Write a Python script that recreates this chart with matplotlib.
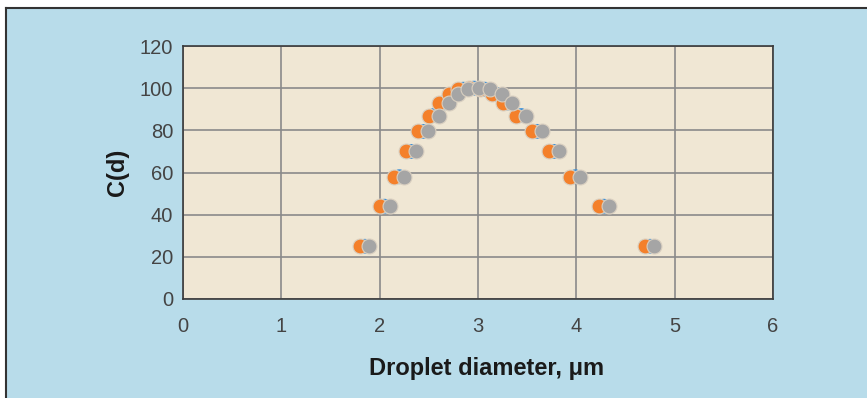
import matplotlib
matplotlib.use("Agg")
import matplotlib.pyplot as plt

# Data
diam_orange = [1.80, 2.00, 2.15, 2.27, 2.39, 2.50, 2.60, 2.70, 2.80, 2.91,
               3.02, 3.14, 3.25, 3.39, 3.55, 3.72, 3.94, 4.23, 4.70]
diam_blue = [1.85, 2.05, 2.20, 2.32, 2.44, 2.55, 2.65, 2.75, 2.85, 2.96,
             3.07, 3.19, 3.30, 3.44, 3.60, 3.77, 3.99, 4.28, 4.75]
diam_gray = [1.89, 2.10, 2.25, 2.37, 2.49, 2.60, 2.70, 2.80, 2.90, 3.01,
             3.12, 3.24, 3.35, 3.49, 3.65, 3.82, 4.04, 4.33, 4.79]
cd_values = [25, 44, 58, 70, 79.5, 87, 93, 97, 99.5, 100,
             99.5, 97, 93, 87, 79.5, 70, 58, 44, 25]
x_ticks = [0, 1, 2, 3, 4, 5, 6]
y_ticks = [0, 20, 40, 60, 80, 100, 120]

plt.rcParams['font.family'] = ['Liberation Sans', 'DejaVu Sans']

fig = plt.figure(figsize=(8.67, 3.98), dpi=100)
fig.patch.set_facecolor('white')
# light-blue panel with dark top/left border
panel = plt.Rectangle((6/867, 0), 1 - 6/867, 1 - 8/398, transform=fig.transFigure,
                      facecolor='#b8dcea', edgecolor='none', zorder=-10)
fig.patches.append(panel)
fig.add_artist(plt.Line2D([6/867, 6/867], [0, 1 - 8/398], transform=fig.transFigure,
                          color='#333333', lw=1.5))
fig.add_artist(plt.Line2D([6/867, 1], [1 - 8/398, 1 - 8/398], transform=fig.transFigure,
                          color='#333333', lw=1.5))

ax = fig.add_axes([183/867, 1 - 299/398, (773 - 183)/867, (299 - 46)/398])
ax.set_facecolor('#f0e7d4')
ax.set_xlim(0, 6)
ax.set_ylim(0, 120)
ax.set_xticks(x_ticks)
ax.set_yticks(y_ticks)
ax.grid(True, color='#8a8a8a', lw=1.2)
ax.set_axisbelow(True)
for s in ax.spines.values():
    s.set_color('#3a3a3a')
    s.set_linewidth(1.2)
ax.tick_params(length=0, labelsize=14.5, labelcolor='#444444')
ax.tick_params(axis='x', pad=13)
ax.tick_params(axis='y', pad=7)

msize = 115
ax.scatter(diam_blue, cd_values, s=msize, color='#3a8fd8', edgecolors='none', zorder=3)
ax.scatter(diam_orange, cd_values, s=msize, color='#f4802a', edgecolors='#d9cfc0',
           linewidths=0.8, zorder=4)
ax.scatter(diam_gray, cd_values, s=msize, color='#a5a5a5', edgecolors='#d9cfc0',
           linewidths=0.8, zorder=5)

ax.set_xlabel('Droplet diameter, μm', fontsize=17, fontweight='bold',
              color='#1a1a1a')
ax.xaxis.set_label_coords(0.515, -0.228)
ax.set_ylabel('C(d)', fontsize=17, fontweight='bold', labelpad=8, color='#1a1a1a')

fig.savefig('out.png', dpi=100)
